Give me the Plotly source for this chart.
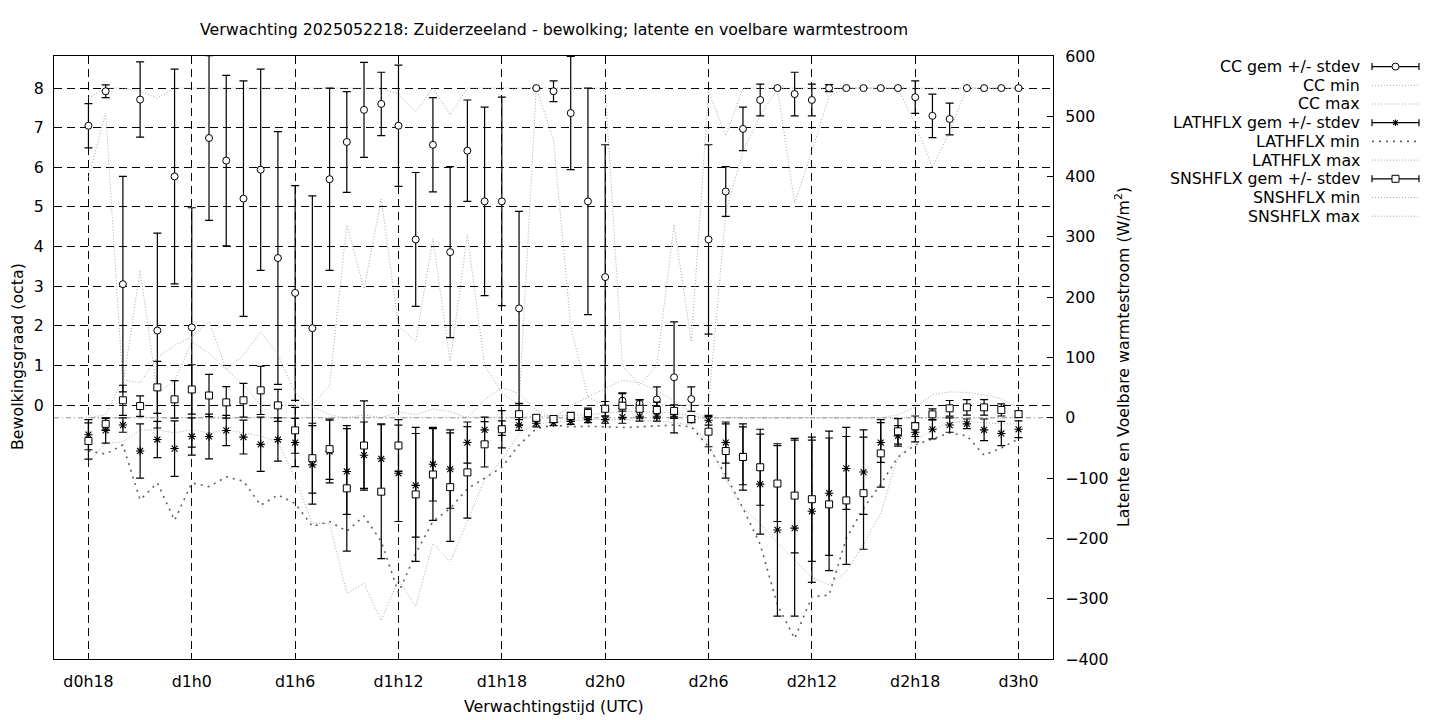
import plotly.graph_objects as go

# ---------------- data ----------------
hours = [18, 19, 20, 21, 22, 23, 24, 25, 26, 27, 28, 29, 30, 31, 32, 33, 34, 35, 36,
         37, 38, 39, 40, 41, 42, 43, 44, 45, 46, 47, 48, 49, 50, 51, 52, 53, 54, 55,
         56, 57, 58, 59, 60, 61, 62, 63, 64, 65, 66, 67, 68, 69, 70, 71, 72]
tick_hours = [18, 24, 30, 36, 42, 48, 54, 60, 66, 72]
tick_labels = ["d0h18", "d1h0", "d1h6", "d1h12", "d1h18", "d2h0", "d2h6", "d2h12", "d2h18", "d3h0"]
cc_ticks = [0, 1, 2, 3, 4, 5, 6, 7, 8]
flux_ticks = [-400, -300, -200, -100, 0, 100, 200, 300, 400, 500, 600]

cc_mean = [7.05, 7.92, 3.05, 7.71, 1.88, 5.77, 1.96, 6.74, 6.17, 5.21, 5.94, 3.71, 2.83, 1.94,
           5.70, 6.64, 7.45, 7.60, 7.05, 4.18, 6.57, 3.86, 6.42, 5.14, 5.14, 2.44, 8.0, 7.92,
           7.37, 5.14, 3.23, 0.11, 0.03, 0.14, 0.70, 0.15, 4.18, 5.39, 6.97, 7.70, 8.0, 7.85,
           7.70, 8.0, 8.0, 8.0, 8.0, 8.0, 7.77, 7.30, 7.22, 8.0, 8.0, 8.0, 8.0]
cc_std = [0.56, 0.16, 2.72, 0.95, 2.46, 2.71, 3.02, 2.08, 2.15, 2.97, 2.54, 3.19, 2.71, 3.34,
          2.30, 1.27, 1.20, 0.80, 1.53, 1.69, 1.19, 2.16, 1.28, 2.38, 2.63, 2.45, 0.0, 0.26,
          1.43, 2.86, 3.34, 0.20, 0.10, 0.32, 1.40, 0.31, 2.39, 0.63, 0.55, 0.40, 0.0, 0.55,
          0.40, 0.09, 0.0, 0.0, 0.0, 0.0, 0.41, 0.55, 0.40, 0.0, 0.0, 0.0, 0.0]
cc_min = [5.75, 7.37, 0.5, 3.4, 0.3, 0.6, 1.6, 1.3, 0.9, 0.5, 0.0, 0.0, 0.0, 0.0,
          0.5, 4.55, 2.94, 5.2, 2.0, 1.6, 4.2, 1.1, 4.3, 1.0, 0.3, 0.0, 8.0, 6.7,
          2.0, 0.2, 0.0, 0.0, 0.0, 0.0, 0.0, 0.0, 0.0, 4.86, 6.4, 7.3, 8.0, 5.1,
          6.4, 7.8, 8.0, 8.0, 8.0, 8.0, 7.1, 6.0, 6.9, 8.0, 8.0, 8.0, 8.0]
cc_max = [7.75, 8.0, 8.0, 7.92, 7.75, 8.0, 8.0, 8.0, 8.0, 8.0, 8.0, 8.0, 8.0, 8.0,
          8.0, 8.0, 8.0, 8.0, 7.85, 7.4, 8.0, 7.33, 8.0, 8.0, 8.0, 8.0, 8.0, 8.0,
          8.0, 8.0, 8.0, 1.0, 0.5, 1.0, 4.55, 1.6, 7.9, 6.8, 8.0, 8.0, 8.0, 8.0,
          8.0, 8.0, 8.0, 8.0, 8.0, 8.0, 8.0, 8.0, 8.0, 8.0, 8.0, 8.0, 8.0]

lat_mean = [-28, -21, -12, -55, -36, -51, -31, -31, -21, -32, -44, -36, -41, -78,
            -56, -89, -62, -68, -92, -112, -77, -85, -41, -20, -17, -12, -9, -8,
            -6, -3, -3, 1, 2.5, 2.5, 5, -3, -4, -41, -63, -110, -186, -183,
            -155, -125, -84, -90, -41, -30, -24, -19, -12, -10, -20, -26, -19]
lat_std = [25, 21, 12, 45, 30, 46, 31, 37, 25, 28, 45, 36, 40, 65,
           52, 71, 55, 58, 80, 86, 61, 65, 34, 21, 12, 9, 6, 5,
           5, 5, 6, 10, 8, 8, 6, 5, 8, 34, 48, 83, 143, 146,
           118, 103, 68, 70, 33, 17, 16, 16, 12, 8, 18, 20, 14]
lat_min = [-55, -60, -45, -136, -108, -170, -108, -114, -98, -105, -145, -128, -142, -180,
           -172, -188, -163, -205, -290, -225, -172, -150, -118, -100, -82, -45, -18, -12,
           -15, -14, -15, -16, -15, -14, -12, -15, -48, -95, -150, -210, -310, -366,
           -297, -294, -200, -150, -110, -65, -45, -35, -25, -30, -62, -50, -35]
lat_max = [0, 0, 0, 0, 0, 0, 0, 0, 0, 0, 0, 0, 0, 0,
           0, 0, 0, 0, 0, 0, 0, 0, 0, 0, 0, 1, 2, 3,
           3, 5, 8, 10, 10, 10, 8, 3, 0, 0, 0, 0, 0, 0,
           0, 0, 0, 0, 0, 0, 0, 0, 0, 0, 0, 0, 0]

sns_mean = [-38.5, -10, 29, 19.5, 50.5, 30.6, 47, 37, 25.6, 29, 45.5, 20.6, -20.8, -67,
            -52, -117, -46, -122.5, -46, -127, -94, -115, -90.5, -44, -19, 6, 0, -2,
            3, 8, 15, 20, 15, 13, 11.5, -2, -23, -55, -65, -82, -109, -129,
            -135, -143.5, -137, -125, -59, -22.5, -14, 5.7, 15.7, 17.3, 17.3, 13, 6]
sns_std = [30, 9, 25, 17, 43, 31, 41, 35, 26, 28, 40, 26.5, 38, 58,
           50, 104, 74, 111, 43, 111, 76, 90, 76, 37.6, 31, 18, 5, 5,
           6, 8, 12, 20, 15, 13, 10, 5, 25, 45, 55, 63, 63, 95,
           103, 110, 106, 93, 56, 21, 17, 9, 13, 13, 13, 10, 5]
sns_min = [-75, -42, -40, -20, -20, -25, -20, -25, -20, -25, -30, -40, -100, -175,
           -175, -291, -275, -336, -269, -313, -208, -239, -170, -103, -70, -26, -9, -8,
           -5, -3, -2, -3, -4, -5, -8, -12, -42, -103, -150, -175, -208, -235,
           -265, -277, -255, -210, -158, -65, -37, -20, -8, -6, -8, -10, -10]
sns_max = [0, 5, 63, 58, 100, 120, 134, 159, 80, 104, 143, 105, 41, 18,
           5, 0, 5, 0, 10, 5, 15, 10, 0, 30, 50, 40, 12, 0,
           20, 35, 48, 62, 58, 45, 28, 10, 0, 0, 0, 0, 0, 0,
           0, 0, 0, 0, 0, 5, 18, 38, 43, 42, 38, 32, 16]

legend_labels = ["CC gem +/- stdev", "CC min", "CC max",
                 "LATHFLX gem +/- stdev", "LATHFLX min", "LATHFLX max",
                 "SNSHFLX gem +/- stdev", "SNSHFLX min", "SNSHFLX max"]

# ---------------- styling ----------------
FONT = "DejaVu Sans"
FS = 15.8
LIGHT = "#a8a8a8"
LIGHT_DASH = "1px,2px"
DARK = "#606060"
DARK_DASH = "2px,5px"

# the page puts the figure at an 8px offset; work in page pixels and compensate
OFF = 8
W, H = 1440 - OFF, 720 - OFF
L, R, T, B = 54, 1053, 56, 659   # plot area in page pixels


def px(xpix):
    return (xpix - L) / (R - L)


def py(ypix):
    return (B - ypix) / (B - T)


fig = go.Figure()


def line_trace(y, axis, color, dash, width=1.0):
    fig.add_trace(go.Scatter(x=hours, y=y, mode="lines", yaxis=axis, showlegend=False,
                             hoverinfo="skip",
                             line=dict(color=color, width=width, dash=dash)))


def err_trace(y, err, axis, symbol, size, fill, lw):
    fig.add_trace(go.Scatter(
        x=hours, y=y, mode="markers", yaxis=axis, showlegend=False,
        marker=dict(symbol=symbol, size=size, color=fill,
                    line=dict(color="black", width=lw)),
        error_y=dict(type="data", array=err, visible=True, color="black",
                     thickness=1.2, width=4)))


# CC (left axis)
line_trace(cc_min, "y", LIGHT, LIGHT_DASH)
line_trace(cc_max, "y", LIGHT, LIGHT_DASH)
err_trace(cc_mean, cc_std, "y", "circle", 7, "white", 1)

# fluxes (right axis)
line_trace(lat_min, "y2", DARK, DARK_DASH, 1.6)
line_trace(lat_max, "y2", LIGHT, LIGHT_DASH)
line_trace(sns_min, "y2", LIGHT, LIGHT_DASH)
line_trace(sns_max, "y2", LIGHT, LIGHT_DASH)
err_trace(lat_mean, lat_std, "y2", "asterisk-open", 7, "black", 1.1)
err_trace(sns_mean, sns_std, "y2", "square", 7, "white", 1)

shapes = []
# zero axis of the right scale
shapes.append(dict(type="line", xref="paper", yref="y2", x0=0, x1=1, y0=0, y1=0,
                   line=dict(color="#909090", width=1, dash="5px,3px,1px,3px"), layer="below"))

annotations = []
# ---------------- hand-drawn legend (text left, sample right) ----------------
row0, drow = 66.6, 18.7
sx0, sx1, sxc = 1372, 1419, 1395.5
for i, lab in enumerate(legend_labels):
    yy = row0 + drow * i
    annotations.append(dict(text=lab, xref="paper", yref="paper", x=px(1362), y=py(yy),
                            xanchor="right", yanchor="middle", showarrow=False,
                            font=dict(family=FONT, size=FS, color="black")))
    if i in (0, 3, 6):
        shapes.append(dict(type="line", xref="paper", yref="paper", x0=px(sx0), x1=px(sx1),
                           y0=py(yy), y1=py(yy), line=dict(color="black", width=1.2)))
        for xx in (sx0, sx1):
            shapes.append(dict(type="line", xref="paper", yref="paper", x0=px(xx), x1=px(xx),
                               y0=py(yy - 3.5), y1=py(yy + 3.5), line=dict(color="black", width=1.2)))
        if i == 0:
            shapes.append(dict(type="circle", xref="paper", yref="paper",
                               x0=px(sxc - 3.5), x1=px(sxc + 3.5), y0=py(yy + 3.5), y1=py(yy - 3.5),
                               fillcolor="white", line=dict(color="black", width=1)))
        elif i == 6:
            shapes.append(dict(type="rect", xref="paper", yref="paper",
                               x0=px(sxc - 3.5), x1=px(sxc + 3.5), y0=py(yy + 3.5), y1=py(yy - 3.5),
                               fillcolor="white", line=dict(color="black", width=1)))
        else:
            for (dx, dy) in ((3.2, 0), (0, 3.2), (2.3, 2.3), (2.3, -2.3)):
                shapes.append(dict(type="line", xref="paper", yref="paper",
                                   x0=px(sxc - dx), x1=px(sxc + dx), y0=py(yy - dy), y1=py(yy + dy),
                                   line=dict(color="black", width=1.1)))
    else:
        col, dsh, wd = (DARK, DARK_DASH, 1.6) if i == 4 else (LIGHT, LIGHT_DASH, 1.0)
        shapes.append(dict(type="line", xref="paper", yref="paper", x0=px(sx0), x1=px(sx1),
                           y0=py(yy), y1=py(yy), line=dict(color=col, width=wd, dash=dsh)))

# titles
annotations.append(dict(text="Verwachting 2025052218: Zuiderzeeland - bewolking; latente en voelbare warmtestroom",
                        xref="paper", yref="paper", x=px(553.5), y=py(29), xanchor="center",
                        yanchor="middle", showarrow=False, font=dict(family=FONT, size=FS, color="black")))
annotations.append(dict(text="Verwachtingstijd (UTC)", xref="paper", yref="paper", x=px(553.5), y=py(706),
                        xanchor="center", yanchor="middle", showarrow=False,
                        font=dict(family=FONT, size=FS, color="black")))
annotations.append(dict(text="Bewolkingsgraad (octa)", xref="paper", yref="paper", x=px(18), y=py(357),
                        xanchor="center", yanchor="middle", textangle=-90, showarrow=False,
                        font=dict(family=FONT, size=FS, color="black")))
annotations.append(dict(text="Latente en Voelbare warmtestroom (W/m<sup>2</sup>)", xref="paper", yref="paper",
                        x=px(1123), y=py(357), xanchor="center", yanchor="middle", textangle=-90,
                        showarrow=False, font=dict(family=FONT, size=FS, color="black")))

GRID_DASH = "8px,5px"
fig.update_layout(
    width=W, height=H, autosize=False,
    margin=dict(l=L - OFF, r=W - (R - OFF), t=T - OFF, b=H - (B - OFF), pad=0),
    paper_bgcolor="white", plot_bgcolor="white",
    font=dict(family=FONT, size=FS, color="black"),
    showlegend=False,
    shapes=shapes, annotations=annotations,
    xaxis=dict(range=[16, 74], tickmode="array", tickvals=tick_hours, ticktext=tick_labels,
               showgrid=True, gridcolor="black", gridwidth=1, griddash=GRID_DASH,
               ticks="inside", ticklen=6, tickcolor="black", showline=True, linecolor="black",
               linewidth=1, mirror=True, zeroline=False, ticklabelstandoff=8),
    yaxis=dict(range=[-6.41, 8.81], tickmode="array", tickvals=cc_ticks,
               showgrid=True, gridcolor="black", gridwidth=1, griddash=GRID_DASH,
               ticks="inside", ticklen=6, tickcolor="black", showline=True, linecolor="black",
               linewidth=1, zeroline=False, ticklabelstandoff=6),
    yaxis2=dict(range=[-400, 600], overlaying="y", side="right", tickmode="array",
                tickvals=flux_ticks, showgrid=False, ticks="inside", ticklen=6, tickcolor="black",
                showline=True, linecolor="black", linewidth=1, zeroline=False,
                ticklabelstandoff=8),
)

fig.write_html("out.html")
